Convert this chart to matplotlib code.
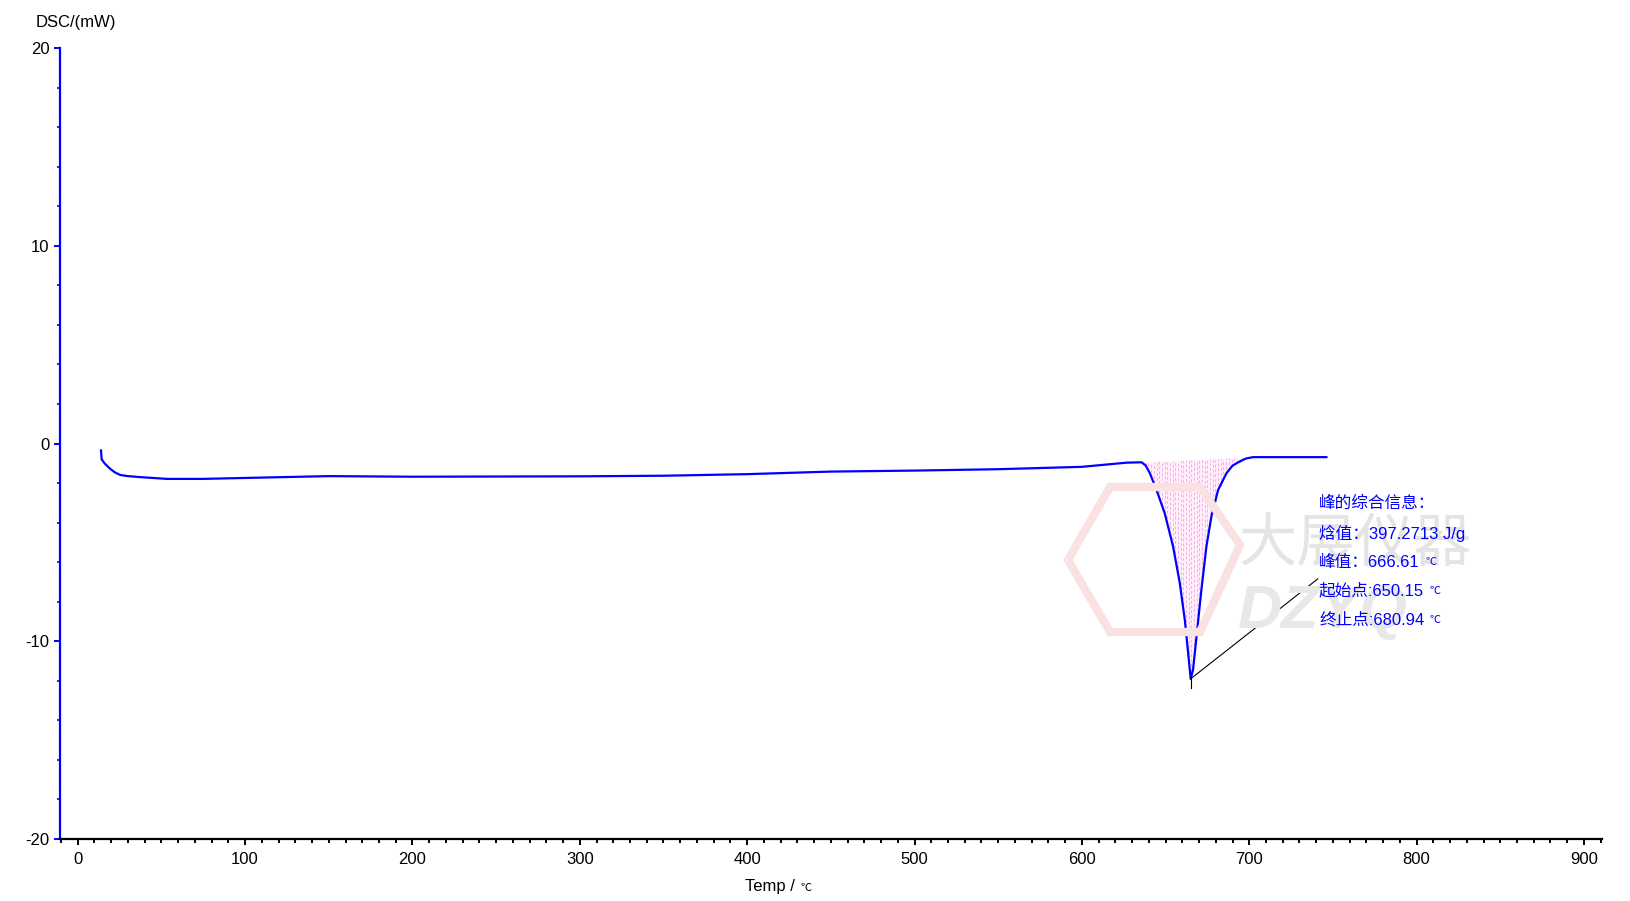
import numpy as np
import matplotlib.pyplot as plt
from matplotlib.ticker import MultipleLocator
from matplotlib.patches import Polygon

plt.rcParams['font.family'] = ['Liberation Sans', 'Noto Sans CJK SC', 'DejaVu Sans']
plt.rcParams['axes.unicode_minus'] = False

# DSC curve
temp = [13.9, 14.3, 16.0, 19.0, 22.0, 25.3, 30.0, 37.2, 53.3, 74.9, 101.0,
        150.0, 200.0, 250.0, 300.0, 350.0, 400.0, 450.0, 500.0, 550.0, 600.0,
        626.6, 635.6, 638.0, 640.6, 644.6, 649.5, 654.5, 658.5, 661.5, 663.5, 665.0,
        666.4, 668.5, 671.4, 674.4, 677.4, 681.4, 686.4, 690.0, 694.3, 698.0, 702.3, 746.1]
dsc = [-0.35, -0.80, -1.00, -1.25, -1.45, -1.59, -1.65, -1.70, -1.79, -1.79, -1.74,
       -1.65, -1.68, -1.67, -1.66, -1.63, -1.55, -1.42, -1.37, -1.30, -1.18,
       -0.97, -0.95, -1.10, -1.50, -2.35, -3.53, -5.21, -7.06, -8.92, -10.60, -11.90,
       -11.45, -9.76, -7.40, -5.21, -3.69, -2.35, -1.50, -1.12, -0.91, -0.76, -0.69, -0.69]

peak_start, peak_end = 635.6, 702.3
peak_x, peak_y = 665.0, -11.9
label_x, label_y = 740.9, -6.85

info_title = "峰的综合信息："
info_lines = ["焓值：397.2713 J/g", "峰值：666.61", "起始点:650.15", "终止点:680.94"]
info_units = [None, "℃", "℃", "℃"]

W, H = 1631, 901
fig = plt.figure(figsize=(W / 100, H / 100), dpi=100)
ax = fig.add_axes([60 / W, 1 - 839 / H, (1601.7 - 60) / W, (839 - 48) / H])

# faint watermark
fig.text(1238 / W, 1 - 545 / H, "大展仪器", fontsize=42, color='#e4e4e4',
         family=['Noto Sans CJK SC'], ha='left', va='center', zorder=0)
fig.text(1238 / W, 1 - 613 / H, "DZYQ", fontsize=44, color='#e8e8e8',
         fontweight='bold', style='italic', ha='left', va='center', zorder=0)
hexa = [(1068, 560), (1110, 487), (1200, 487), (1240, 545), (1200, 632), (1110, 632)]
fig.patches.append(Polygon([(x / W, 1 - y / H) for x, y in hexa], closed=True,
                           fill=False, ec='#fbe2e2', lw=6, transform=fig.transFigure, zorder=0))

# peak area
xs = np.linspace(peak_start, peak_end, 300)
curve = np.interp(xs, temp, dsc)
b0, b1 = np.interp(peak_start, temp, dsc), np.interp(peak_end, temp, dsc)
base = np.interp(xs, [peak_start, peak_end], [b0, b1])
ax.fill_between(xs, curve, base, color='#fff0fb', lw=0, zorder=1)
for xv in np.arange(peak_start + 1, peak_end, 1.6):
    ax.plot([xv, xv], [np.interp(xv, temp, dsc), np.interp(xv, [peak_start, peak_end], [b0, b1])],
            color='#ffa8ea', lw=0.7, ls=(0, (3, 2)), zorder=2)

ax.plot(temp, dsc, color='#0000ff', lw=1.6, zorder=3)

# peak marker line
ax.plot([peak_x, label_x], [peak_y, label_y], color='black', lw=0.8, zorder=4)
ax.plot([peak_x, peak_x], [peak_y, peak_y - 0.45], color='black', lw=0.8, zorder=4)

# peak info text
ys_px = [503, 533, 562, 591, 620]
fig.text(1319 / W, 1 - ys_px[0] / H, info_title, color='#0000ff', fontsize=12, va='center', ha='left')
for line, unit, p in zip(info_lines, info_units, ys_px[1:]):
    t = fig.text(1319 / W, 1 - p / H, line, color='#0000ff', fontsize=12, va='center', ha='left')
    if unit:
        fig.add_artist(plt.Annotation(unit, xy=(1, 0.15), xycoords=t, xytext=(4, 0),
                                      textcoords='offset points', color='#0000ff',
                                      fontsize=8, va='bottom', ha='left'))

ax.set_xlim(-10.6, 910.6)
ax.set_ylim(-20, 20)
ax.xaxis.set_major_locator(MultipleLocator(100))
ax.xaxis.set_minor_locator(MultipleLocator(10))
ax.yaxis.set_major_locator(MultipleLocator(10))
ax.yaxis.set_minor_locator(MultipleLocator(2))

ax.spines['top'].set_visible(False)
ax.spines['right'].set_visible(False)
ax.spines['left'].set_color('#0000ff')
ax.spines['left'].set_linewidth(1.6)
ax.spines['bottom'].set_linewidth(1.6)

ax.tick_params(axis='x', which='major', length=4.5, width=1.4, labelsize=12, pad=5)
ax.tick_params(axis='x', which='minor', length=2.8, width=1.4)
ax.tick_params(axis='y', which='major', length=4.5, width=1.4, color='#0000ff', labelsize=12, pad=3)
ax.tick_params(axis='y', which='minor', length=2, width=1.2, color='#0000ff')

fig.text(36 / W, 1 - 22 / H, "DSC/(mW)", fontsize=12, ha='left', va='center')
xl = fig.text(745 / W, 1 - 887 / H, "Temp / ", fontsize=12, ha='left', va='center')
fig.add_artist(plt.Annotation("℃", xy=(1, 0.1), xycoords=xl, xytext=(1, 0),
                              textcoords='offset points', fontsize=8, va='bottom', ha='left'))

fig.savefig("out.png", dpi=100)
